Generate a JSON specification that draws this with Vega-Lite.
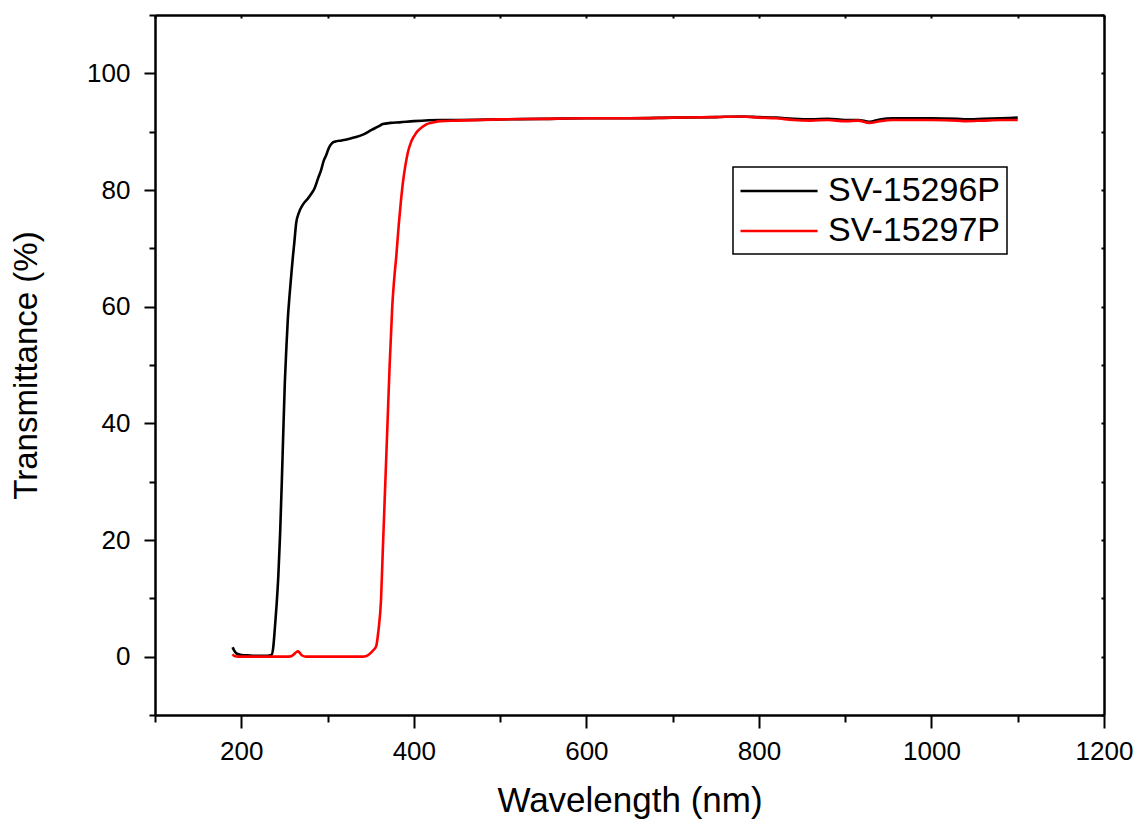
{
  "$schema": "https://vega.github.io/schema/vega-lite/v6.json",
  "width": 949,
  "height": 700,
  "autosize": {"type": "none"},
  "padding": {"left": 155, "top": 15, "right": 32, "bottom": 108},
  "background": "white",
  "datasets": {
    "spectra": [
      {"wavelength": 190, "transmittance": 1.6, "sample": "SV-15296P"},
      {"wavelength": 192, "transmittance": 1.0, "sample": "SV-15296P"},
      {"wavelength": 195, "transmittance": 0.5, "sample": "SV-15296P"},
      {"wavelength": 200, "transmittance": 0.3, "sample": "SV-15296P"},
      {"wavelength": 210, "transmittance": 0.2, "sample": "SV-15296P"},
      {"wavelength": 220, "transmittance": 0.15, "sample": "SV-15296P"},
      {"wavelength": 230, "transmittance": 0.15, "sample": "SV-15296P"},
      {"wavelength": 235, "transmittance": 0.3, "sample": "SV-15296P"},
      {"wavelength": 237, "transmittance": 1.5, "sample": "SV-15296P"},
      {"wavelength": 239, "transmittance": 5, "sample": "SV-15296P"},
      {"wavelength": 241, "transmittance": 9, "sample": "SV-15296P"},
      {"wavelength": 243, "transmittance": 14, "sample": "SV-15296P"},
      {"wavelength": 245, "transmittance": 21, "sample": "SV-15296P"},
      {"wavelength": 247, "transmittance": 30, "sample": "SV-15296P"},
      {"wavelength": 248.8, "transmittance": 39, "sample": "SV-15296P"},
      {"wavelength": 250.5, "transmittance": 47, "sample": "SV-15296P"},
      {"wavelength": 252.3, "transmittance": 53, "sample": "SV-15296P"},
      {"wavelength": 254, "transmittance": 58, "sample": "SV-15296P"},
      {"wavelength": 256, "transmittance": 62, "sample": "SV-15296P"},
      {"wavelength": 258, "transmittance": 65.5, "sample": "SV-15296P"},
      {"wavelength": 259.8, "transmittance": 68.5, "sample": "SV-15296P"},
      {"wavelength": 261.5, "transmittance": 71, "sample": "SV-15296P"},
      {"wavelength": 263.7, "transmittance": 74.4, "sample": "SV-15296P"},
      {"wavelength": 266.5, "transmittance": 76, "sample": "SV-15296P"},
      {"wavelength": 271.4, "transmittance": 77.5, "sample": "SV-15296P"},
      {"wavelength": 277, "transmittance": 78.5, "sample": "SV-15296P"},
      {"wavelength": 281, "transmittance": 79.3, "sample": "SV-15296P"},
      {"wavelength": 285, "transmittance": 80.3, "sample": "SV-15296P"},
      {"wavelength": 289, "transmittance": 82, "sample": "SV-15296P"},
      {"wavelength": 292.7, "transmittance": 83.5, "sample": "SV-15296P"},
      {"wavelength": 295.5, "transmittance": 85, "sample": "SV-15296P"},
      {"wavelength": 298.5, "transmittance": 86, "sample": "SV-15296P"},
      {"wavelength": 301.5, "transmittance": 87.2, "sample": "SV-15296P"},
      {"wavelength": 305, "transmittance": 88, "sample": "SV-15296P"},
      {"wavelength": 309, "transmittance": 88.3, "sample": "SV-15296P"},
      {"wavelength": 316, "transmittance": 88.5, "sample": "SV-15296P"},
      {"wavelength": 325.5, "transmittance": 88.8, "sample": "SV-15296P"},
      {"wavelength": 333, "transmittance": 89.1, "sample": "SV-15296P"},
      {"wavelength": 341, "transmittance": 89.5, "sample": "SV-15296P"},
      {"wavelength": 351, "transmittance": 90.3, "sample": "SV-15296P"},
      {"wavelength": 359, "transmittance": 90.9, "sample": "SV-15296P"},
      {"wavelength": 364, "transmittance": 91.3, "sample": "SV-15296P"},
      {"wavelength": 373, "transmittance": 91.5, "sample": "SV-15296P"},
      {"wavelength": 383.4, "transmittance": 91.6, "sample": "SV-15296P"},
      {"wavelength": 400, "transmittance": 91.8, "sample": "SV-15296P"},
      {"wavelength": 430, "transmittance": 92.0, "sample": "SV-15296P"},
      {"wavelength": 450, "transmittance": 92.0, "sample": "SV-15296P"},
      {"wavelength": 500, "transmittance": 92.1, "sample": "SV-15296P"},
      {"wavelength": 550, "transmittance": 92.2, "sample": "SV-15296P"},
      {"wavelength": 600, "transmittance": 92.3, "sample": "SV-15296P"},
      {"wavelength": 650, "transmittance": 92.3, "sample": "SV-15296P"},
      {"wavelength": 700, "transmittance": 92.4, "sample": "SV-15296P"},
      {"wavelength": 750, "transmittance": 92.5, "sample": "SV-15296P"},
      {"wavelength": 780, "transmittance": 92.6, "sample": "SV-15296P"},
      {"wavelength": 800, "transmittance": 92.5, "sample": "SV-15296P"},
      {"wavelength": 820, "transmittance": 92.4, "sample": "SV-15296P"},
      {"wavelength": 840, "transmittance": 92.2, "sample": "SV-15296P"},
      {"wavelength": 860, "transmittance": 92.1, "sample": "SV-15296P"},
      {"wavelength": 880, "transmittance": 92.2, "sample": "SV-15296P"},
      {"wavelength": 900, "transmittance": 92.0, "sample": "SV-15296P"},
      {"wavelength": 915, "transmittance": 92.0, "sample": "SV-15296P"},
      {"wavelength": 928, "transmittance": 91.7, "sample": "SV-15296P"},
      {"wavelength": 940, "transmittance": 92.1, "sample": "SV-15296P"},
      {"wavelength": 955, "transmittance": 92.3, "sample": "SV-15296P"},
      {"wavelength": 980, "transmittance": 92.3, "sample": "SV-15296P"},
      {"wavelength": 1000, "transmittance": 92.3, "sample": "SV-15296P"},
      {"wavelength": 1030, "transmittance": 92.2, "sample": "SV-15296P"},
      {"wavelength": 1040, "transmittance": 92.1, "sample": "SV-15296P"},
      {"wavelength": 1060, "transmittance": 92.2, "sample": "SV-15296P"},
      {"wavelength": 1080, "transmittance": 92.3, "sample": "SV-15296P"},
      {"wavelength": 1100, "transmittance": 92.4, "sample": "SV-15296P"},

      {"wavelength": 190, "transmittance": 0.4, "sample": "SV-15297P"},
      {"wavelength": 192, "transmittance": 0.1, "sample": "SV-15297P"},
      {"wavelength": 197, "transmittance": 0, "sample": "SV-15297P"},
      {"wavelength": 210, "transmittance": 0, "sample": "SV-15297P"},
      {"wavelength": 230, "transmittance": 0, "sample": "SV-15297P"},
      {"wavelength": 252, "transmittance": 0, "sample": "SV-15297P"},
      {"wavelength": 257, "transmittance": 0.05, "sample": "SV-15297P"},
      {"wavelength": 261, "transmittance": 0.4, "sample": "SV-15297P"},
      {"wavelength": 264, "transmittance": 0.8, "sample": "SV-15297P"},
      {"wavelength": 265.6, "transmittance": 0.9, "sample": "SV-15297P"},
      {"wavelength": 267.5, "transmittance": 0.7, "sample": "SV-15297P"},
      {"wavelength": 270.5, "transmittance": 0.2, "sample": "SV-15297P"},
      {"wavelength": 275, "transmittance": 0, "sample": "SV-15297P"},
      {"wavelength": 290, "transmittance": 0, "sample": "SV-15297P"},
      {"wavelength": 310, "transmittance": 0, "sample": "SV-15297P"},
      {"wavelength": 330, "transmittance": 0, "sample": "SV-15297P"},
      {"wavelength": 341, "transmittance": 0, "sample": "SV-15297P"},
      {"wavelength": 345, "transmittance": 0.1, "sample": "SV-15297P"},
      {"wavelength": 349, "transmittance": 0.5, "sample": "SV-15297P"},
      {"wavelength": 353, "transmittance": 1.1, "sample": "SV-15297P"},
      {"wavelength": 356.4, "transmittance": 1.8, "sample": "SV-15297P"},
      {"wavelength": 359, "transmittance": 4.5, "sample": "SV-15297P"},
      {"wavelength": 362, "transmittance": 9.8, "sample": "SV-15297P"},
      {"wavelength": 364, "transmittance": 18, "sample": "SV-15297P"},
      {"wavelength": 367, "transmittance": 30, "sample": "SV-15297P"},
      {"wavelength": 369.5, "transmittance": 40, "sample": "SV-15297P"},
      {"wavelength": 372, "transmittance": 50, "sample": "SV-15297P"},
      {"wavelength": 375, "transmittance": 60, "sample": "SV-15297P"},
      {"wavelength": 378, "transmittance": 66, "sample": "SV-15297P"},
      {"wavelength": 379.6, "transmittance": 68.5, "sample": "SV-15297P"},
      {"wavelength": 382.5, "transmittance": 74, "sample": "SV-15297P"},
      {"wavelength": 385, "transmittance": 78, "sample": "SV-15297P"},
      {"wavelength": 387.3, "transmittance": 81.2, "sample": "SV-15297P"},
      {"wavelength": 390, "transmittance": 84, "sample": "SV-15297P"},
      {"wavelength": 393, "transmittance": 86.4, "sample": "SV-15297P"},
      {"wavelength": 397, "transmittance": 88.3, "sample": "SV-15297P"},
      {"wavelength": 402.8, "transmittance": 89.8, "sample": "SV-15297P"},
      {"wavelength": 409, "transmittance": 90.7, "sample": "SV-15297P"},
      {"wavelength": 415, "transmittance": 91.3, "sample": "SV-15297P"},
      {"wavelength": 423, "transmittance": 91.6, "sample": "SV-15297P"},
      {"wavelength": 431, "transmittance": 91.8, "sample": "SV-15297P"},
      {"wavelength": 450, "transmittance": 91.9, "sample": "SV-15297P"},
      {"wavelength": 500, "transmittance": 92.1, "sample": "SV-15297P"},
      {"wavelength": 550, "transmittance": 92.2, "sample": "SV-15297P"},
      {"wavelength": 600, "transmittance": 92.3, "sample": "SV-15297P"},
      {"wavelength": 650, "transmittance": 92.3, "sample": "SV-15297P"},
      {"wavelength": 700, "transmittance": 92.4, "sample": "SV-15297P"},
      {"wavelength": 750, "transmittance": 92.5, "sample": "SV-15297P"},
      {"wavelength": 780, "transmittance": 92.6, "sample": "SV-15297P"},
      {"wavelength": 800, "transmittance": 92.4, "sample": "SV-15297P"},
      {"wavelength": 820, "transmittance": 92.3, "sample": "SV-15297P"},
      {"wavelength": 840, "transmittance": 92.0, "sample": "SV-15297P"},
      {"wavelength": 860, "transmittance": 91.9, "sample": "SV-15297P"},
      {"wavelength": 880, "transmittance": 92.0, "sample": "SV-15297P"},
      {"wavelength": 900, "transmittance": 91.8, "sample": "SV-15297P"},
      {"wavelength": 915, "transmittance": 91.9, "sample": "SV-15297P"},
      {"wavelength": 928, "transmittance": 91.5, "sample": "SV-15297P"},
      {"wavelength": 940, "transmittance": 91.8, "sample": "SV-15297P"},
      {"wavelength": 955, "transmittance": 92.0, "sample": "SV-15297P"},
      {"wavelength": 980, "transmittance": 92.0, "sample": "SV-15297P"},
      {"wavelength": 1000, "transmittance": 92.0, "sample": "SV-15297P"},
      {"wavelength": 1030, "transmittance": 91.9, "sample": "SV-15297P"},
      {"wavelength": 1040, "transmittance": 91.8, "sample": "SV-15297P"},
      {"wavelength": 1060, "transmittance": 91.9, "sample": "SV-15297P"},
      {"wavelength": 1080, "transmittance": 92.0, "sample": "SV-15297P"},
      {"wavelength": 1100, "transmittance": 92.0, "sample": "SV-15297P"}
    ]
  },
  "data": {"name": "spectra"},
  "resolve": {"axis": {"x": "independent", "y": "independent"}},
  "layer": [
    {
      "mark": {"type": "line", "strokeWidth": 2.6, "interpolate": "monotone", "clip": true},
      "encoding": {
        "x": {
          "field": "wavelength",
          "type": "quantitative",
          "scale": {"domain": [100, 1200], "nice": false, "zero": false},
          "axis": {
            "orient": "bottom",
            "title": "Wavelength (nm)",
            "titleFontSize": 35,
            "values": [100, 200, 300, 400, 500, 600, 700, 800, 900, 1000, 1100, 1200],
            "labelExpr": "datum.value % 200 === 0 ? '' + datum.value : ''",
            "tickSize": {"condition": {"test": "datum.value % 200 === 0", "value": 13}, "value": 7},
            "labelPadding": 10,
            "labelFlush": false,
            "labelOverlap": false,
            "titlePadding": 19
          }
        },
        "y": {
          "field": "transmittance",
          "type": "quantitative",
          "scale": {"domain": [-10, 110], "nice": false, "zero": false},
          "axis": {
            "orient": "left",
            "title": "Transmittance (%)",
            "values": [-10, 0, 10, 20, 30, 40, 50, 60, 70, 80, 90, 100, 110],
            "labelExpr": "(datum.value % 20 === 0 && datum.value >= 0 && datum.value <= 100) ? '' + datum.value : ''",
            "tickSize": {"condition": {"test": "datum.value % 20 === 0", "value": 11}, "value": 6},
            "labelPadding": 14,
            "labelFlush": false,
            "labelOverlap": false,
            "titlePadding": 43
          }
        },
        "color": {
          "field": "sample",
          "type": "nominal",
          "scale": {"domain": ["SV-15296P", "SV-15297P"], "range": ["#000000", "#ff0000"]},
          "legend": {
            "orient": "none",
            "legendX": 578,
            "legendY": 152,
            "title": null,
            "strokeColor": "#000000",
            "padding": 6,
            "symbolType": "M-1,0H3.67",
            "symbolSize": 1089,
            "symbolStrokeWidth": 2.6,
            "labelFontSize": 34,
            "labelFont": "Liberation Sans",
            "labelColor": "#000000",
            "labelLimit": 0,
            "labelOffset": 53,
            "rowPadding": 5
          }
        }
      }
    },
    {
      "mark": {"type": "line", "opacity": 0},
      "encoding": {
        "x": {
          "field": "wavelength",
          "type": "quantitative",
          "scale": {"domain": [100, 1200], "nice": false, "zero": false},
          "axis": {
            "orient": "top",
            "title": null,
            "labels": false,
            "values": [100, 200, 300, 400, 500, 600, 700, 800, 900, 1000, 1100, 1200],
            "tickSize": -3
          }
        },
        "y": {
          "field": "transmittance",
          "type": "quantitative",
          "scale": {"domain": [-10, 110], "nice": false, "zero": false},
          "axis": {
            "orient": "right",
            "title": null,
            "labels": false,
            "values": [-10, 0, 10, 20, 30, 40, 50, 60, 70, 80, 90, 100, 110],
            "tickSize": -3
          }
        },
        "detail": {"field": "sample", "type": "nominal"}
      }
    }
  ],
  "config": {
    "font": "Liberation Sans",
    "view": {"stroke": null},
    "legend": {"strokeWidth": 1.5},
    "axis": {
      "grid": false,
      "domainColor": "#000000",
      "domainWidth": 2.5,
      "tickColor": "#000000",
      "tickWidth": 2,
      "labelColor": "#000000",
      "titleColor": "#000000",
      "labelFont": "Liberation Sans",
      "titleFont": "Liberation Sans",
      "labelFontSize": 26,
      "titleFontSize": 33,
      "titleFontWeight": "normal"
    }
  }
}
